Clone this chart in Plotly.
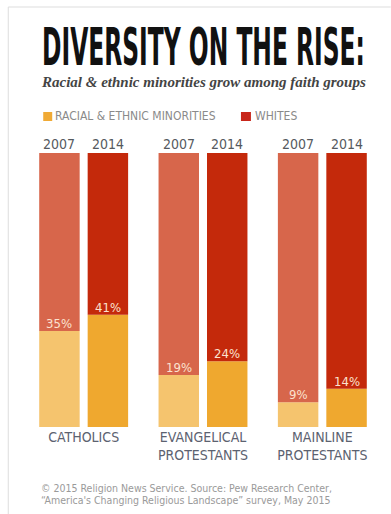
import plotly.graph_objects as go

# ---------------- data ----------------
groups = ["CATHOLICS", "EVANGELICAL<br>PROTESTANTS", "MAINLINE<br>PROTESTANTS"]
years = ["2007", "2014"]
minorities_2007 = [35, 19, 9]
minorities_2014 = [41, 24, 14]
title_text = "DIVERSITY ON THE RISE:"
subtitle_text = "Racial & ethnic minorities grow among faith groups"
legend_labels = ["RACIAL & ETHNIC MINORITIES", "WHITES"]
source_lines = [
    "© 2015 Religion News Service. Source: Pew Research Center,",
    "“America's Changing Religious Landscape” survey, May 2015",
]

# ---------------- style ----------------
W, H = 391, 514
L, R, T, B = 23.75, 8.75, 153, 87
PW, PH = W - L - R, H - T - B
BARGAP, BARGROUPGAP = 0.188, 0.165

def px(x):
    return (x - L) / PW

def py(y):
    return (H - B - y) / PH

# pixel offset of each year's bar centre from its group centre
SLOT = PW / len(groups) * (1 - BARGAP) / 2
YEAR_SHIFT = {years[0]: -SLOT / 2, years[1]: SLOT / 2}

NARROW = "DejaVu Sans Condensed, Liberation Sans Narrow, Arial Narrow, sans-serif"
C_MIN = {"2007": "#F5C46E", "2014": "#EFA82F"}
C_WHT = {"2007": "#D7664B", "2014": "#C4290B"}
LEG_MIN, LEG_WHT = "#F0AA35", "#C8261A"
PCT_COLOR = "#FBE2CF"
mins_by_year = dict(zip(years, [minorities_2007, minorities_2014]))

fig = go.Figure()
for yr in years:
    mins = mins_by_year[yr]
    whites = [100 - m for m in mins]
    fig.add_trace(go.Bar(
        x=groups, y=mins, base=[0] * len(mins), offsetgroup=yr,
        marker=dict(color=C_MIN[yr], line=dict(width=0)),
        showlegend=False, hoverinfo="skip",
    ))
    fig.add_trace(go.Bar(
        x=groups, y=whites, base=mins, offsetgroup=yr,
        marker=dict(color=C_WHT[yr], line=dict(width=0)),
        showlegend=False, hoverinfo="skip",
    ))

annotations = []
# year labels above bars and percentage labels at the segment boundary
for yr in years:
    for g, m in zip(groups, mins_by_year[yr]):
        annotations.append(dict(
            text=yr, x=g, y=100, xref="x", yref="y", showarrow=False,
            xanchor="center", yanchor="bottom", xshift=YEAR_SHIFT[yr], yshift=-1,
            font=dict(family=NARROW, size=14, color="#55595e")))
        annotations.append(dict(
            text=f"{m}%", x=g, y=m, xref="x", yref="y", showarrow=False,
            xanchor="center", yanchor="bottom", xshift=YEAR_SHIFT[yr], yshift=-2,
            font=dict(family=NARROW, size=13, color=PCT_COLOR)))

annotations += [
    dict(text=title_text, x=px(203), y=py(47), xref="paper", yref="paper",
         showarrow=False, xanchor="center", yanchor="middle",
         font=dict(family=NARROW, size=26, color="#111111", weight="bold")),
    dict(text=subtitle_text, x=px(203), y=py(82), xref="paper", yref="paper",
         showarrow=False, xanchor="center", yanchor="middle",
         font=dict(family="Liberation Serif, DejaVu Serif, serif", size=15,
                   color="#444444", style="italic", weight="bold")),
    dict(text=legend_labels[0], x=px(53), y=py(116), xref="paper", yref="paper",
         showarrow=False, xanchor="left", yanchor="middle",
         font=dict(family=NARROW, size=12, color="#8a8a8a")),
    dict(text=legend_labels[1], x=px(253), y=py(116), xref="paper", yref="paper",
         showarrow=False, xanchor="left", yanchor="middle",
         font=dict(family=NARROW, size=12, color="#8a8a8a")),
]
for i, line in enumerate(source_lines):
    annotations.append(dict(
        text=line, x=px(39), y=py(488 + 12 * i), xref="paper", yref="paper",
        showarrow=False, xanchor="left", yanchor="middle",
        font=dict(family=NARROW, size=10.5, color="#9a9a9a")))

shapes = [
    dict(type="rect", x0=px(43), x1=px(52), y0=py(121), y1=py(112),
         xref="paper", yref="paper", fillcolor=LEG_MIN, line=dict(width=0)),
    dict(type="rect", x0=px(241), x1=px(251), y0=py(121), y1=py(112),
         xref="paper", yref="paper", fillcolor=LEG_WHT, line=dict(width=0)),
    dict(type="line", x0=px(8), x1=px(W), y0=py(7), y1=py(7),
         xref="paper", yref="paper", line=dict(color="#dddddd", width=1)),
    dict(type="line", x0=px(8), x1=px(8), y0=py(7), y1=py(H),
         xref="paper", yref="paper", line=dict(color="#dddddd", width=1)),
]

fig.update_layout(
    width=W, height=H,
    margin=dict(l=L, r=R, t=T, b=B, pad=0),
    paper_bgcolor="white", plot_bgcolor="white",
    barmode="group", bargap=BARGAP, bargroupgap=BARGROUPGAP,
    xaxis=dict(showgrid=False, zeroline=False, showline=False, ticks="",
               tickfont=dict(family=NARROW, size=14, color="#5c6270")),
    yaxis=dict(range=[0, 100], visible=False, fixedrange=True),
    annotations=annotations, shapes=shapes,
    font=dict(family=NARROW),
)

# stretch the condensed headline vertically to mimic the tall gothic type
post = """
var gd = document.getElementById('{plot_id}');
function stretchTitle() {
  gd.querySelectorAll('text.annotation-text').forEach(function (t) {
    if (t.textContent.indexOf('DIVERSITY') === 0) {
      t.style.transformBox = 'fill-box';
      t.style.transformOrigin = 'center';
      t.style.transform = 'scaleY(2.0)';
    }
  });
}
stretchTitle();
gd.on('plotly_afterplot', stretchTitle);
"""

fig.write_html("out.html", post_script=post)
